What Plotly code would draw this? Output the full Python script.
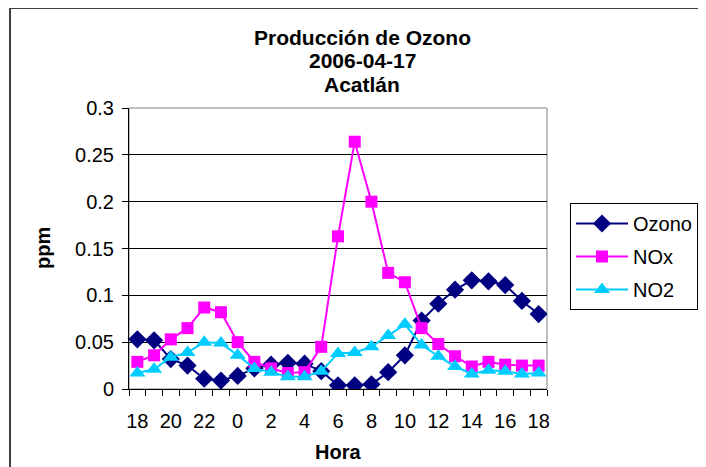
import plotly.graph_objects as go

# ── Data ──────────────────────────────────────────────────────────────────────
horas = [18, 19, 20, 21, 22, 23, 0, 1, 2, 3, 4, 5, 6, 7, 8, 9, 10, 11, 12, 13, 14, 15, 16, 17, 18]
ozono = [0.053, 0.052, 0.032, 0.025, 0.011, 0.009, 0.014, 0.022, 0.026, 0.028, 0.027, 0.019,
         0.004, 0.004, 0.005, 0.018, 0.036, 0.073, 0.091, 0.106, 0.116, 0.115, 0.111, 0.094, 0.080]
nox = [0.029, 0.036, 0.053, 0.065, 0.087, 0.082, 0.050, 0.029, 0.022, 0.017, 0.018, 0.045,
       0.163, 0.264, 0.200, 0.124, 0.114, 0.065, 0.048, 0.035, 0.024, 0.029, 0.026, 0.025, 0.025]
no2 = [0.017, 0.021, 0.034, 0.039, 0.050, 0.049, 0.036, 0.022, 0.018, 0.013, 0.013, 0.019,
       0.038, 0.039, 0.045, 0.057, 0.069, 0.047, 0.035, 0.024, 0.016, 0.020, 0.019, 0.016, 0.017]

x = list(range(len(horas)))
tick_idx = x[::2]
tick_txt = [str(horas[i]) for i in tick_idx]

# plot area in page pixels (the page body adds an 8px margin)
OFF = 8
L, R, T, B = 129, 547, 108, 389
W, H = 706, 467
pw, ph = R - L, B - T


def px_x(p):
    return (p - L) / pw


def px_y(p):
    return (B - p) / ph


FONT = "Liberation Sans, Arial, sans-serif"
FS = 20

fig = go.Figure()
series = [
    ("Ozono", ozono, "#000080", "diamond", 14),
    ("NOx", nox, "#FF00FF", "square", 12),
    ("NO2", no2, "#00CCFF", "triangle-up", 14),
]
for name, vals, col, sym, size in series:
    fig.add_trace(go.Scatter(
        x=x, y=vals, name=name, mode="lines+markers",
        line=dict(color=col, width=2),
        marker=dict(symbol=sym, size=size, color=col),
        legendgroup=name,
    ))


def label(txt, xp, yp, size=FS, angle=0):
    fig.add_annotation(text=f"<b>{txt}</b>", x=px_x(xp), y=px_y(yp), xref="paper", yref="paper",
                       xanchor="center", yanchor="middle", showarrow=False, textangle=angle,
                       font=dict(size=size, family=FONT, color="black"))


# titles
label("Producción de Ozono", 362, 38, 21)
label("2006-04-17", 362, 61, 21)
label("Acatlán", 362, 85, 21)
label("ppm", 43, 248, angle=-90)
label("Hora", 338, 452)

# plot area border (gray)
fig.add_shape(type="rect", xref="paper", yref="paper", x0=0, x1=1, y0=0, y1=1,
              line=dict(color="#808080", width=1), layer="below")
# chart area border, cut off at the right and bottom
fig.add_shape(type="line", xref="paper", yref="paper",
              x0=px_x(9), x1=px_x(720), y0=px_y(8), y1=px_y(8),
              line=dict(color="#404040", width=2))
fig.add_shape(type="line", xref="paper", yref="paper",
              x0=px_x(10), x1=px_x(10), y0=px_y(7), y1=px_y(480),
              line=dict(color="#404040", width=2))

fig.update_xaxes(
    range=[-0.5, len(x) - 0.5], tickvals=tick_idx, ticktext=tick_txt,
    ticks="", showgrid=False, zeroline=False,
    showline=True, linecolor="black", linewidth=1,
    tickfont=dict(size=FS, family=FONT, color="black"),
    ticklabelstandoff=14,
    minor=dict(tickvals=[i - 0.5 for i in range(len(x) + 1)], ticks="outside",
               ticklen=6, tickcolor="black", showgrid=False),
)
fig.update_yaxes(
    range=[0, 0.3], dtick=0.05, tickformat="~g",
    ticks="outside", ticklen=6, tickcolor="black",
    showgrid=True, gridcolor="black", gridwidth=1, zeroline=False,
    showline=True, linecolor="black", linewidth=1,
    tickfont=dict(size=FS, family=FONT, color="black"),
    ticklabelstandoff=4,
)

fig.update_layout(
    width=W, height=H,
    margin=dict(l=L - OFF, r=W - R + OFF, t=T - OFF, b=H - B + OFF),
    plot_bgcolor="white", paper_bgcolor="white",
    font=dict(family=FONT, color="black"),
    legend=dict(x=px_x(570), y=px_y(203), xanchor="left", yanchor="top",
                bordercolor="black", borderwidth=1, bgcolor="white",
                font=dict(size=20, family=FONT, color="black"),
                tracegroupgap=4, traceorder="grouped", itemwidth=52),
    showlegend=True,
)

fig.write_html("out.html")
